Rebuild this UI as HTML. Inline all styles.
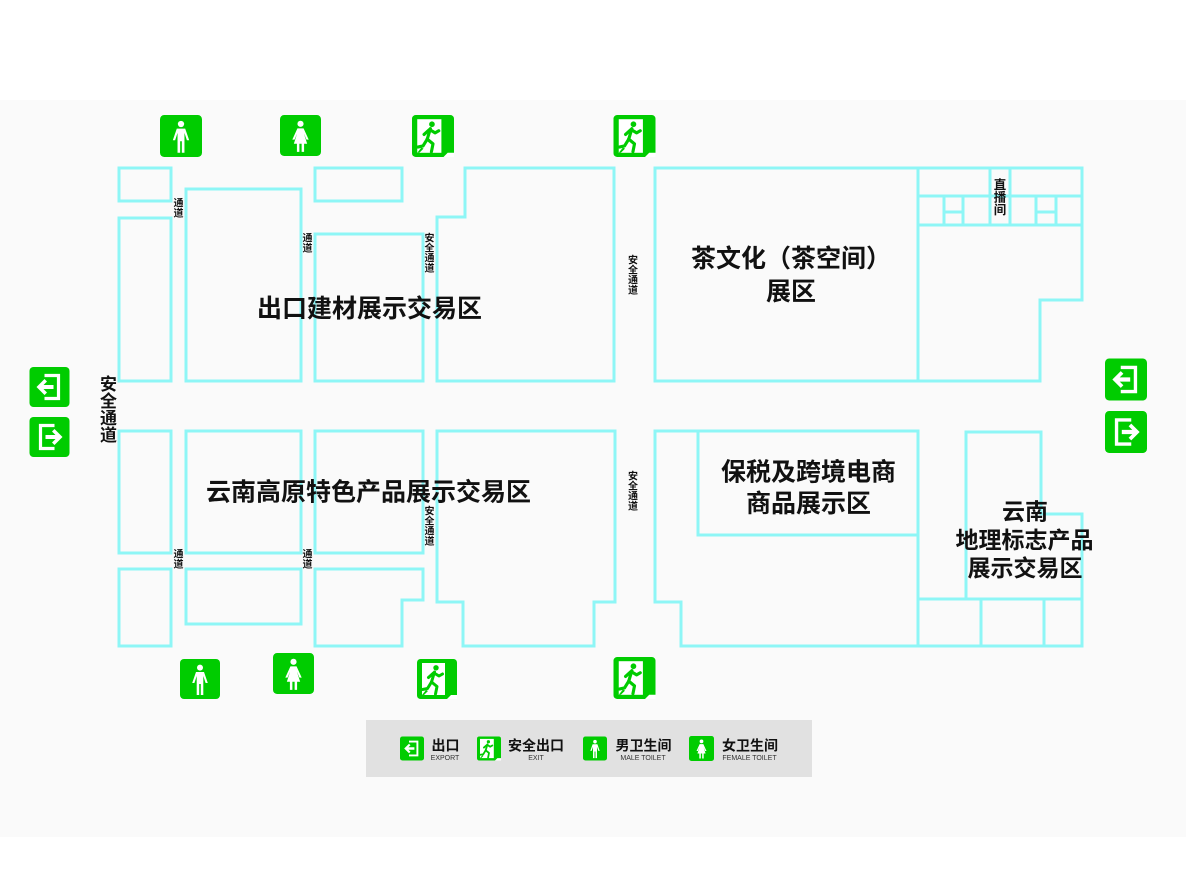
<!DOCTYPE html>
<html><head><meta charset="utf-8">
<style>
html,body{margin:0;padding:0;background:#fff;}
body{width:1186px;height:877px;overflow:hidden;position:relative;}
svg{position:absolute;left:0;top:0;}
.t{font-family:"Liberation Sans","Noto Sans CJK SC",sans-serif;font-weight:700;fill:#111;text-anchor:middle;dominant-baseline:central;}
.s{font-family:"Liberation Sans",sans-serif;font-size:7px;fill:#333;text-anchor:middle;}
</style></head>
<body>
<svg width="1186" height="877" viewBox="0 0 1186 877" xmlns="http://www.w3.org/2000/svg">
<defs>
<symbol id="male" viewBox="0 0 40 40">
<rect width="40" height="40" rx="4" fill="#00cc00"/>
<circle cx="20" cy="8.6" r="3" fill="#fff"/>
<path d="M16 13h8l3.8 11h-2.2l-2.3-7v19h-2.5v-11h-1.6v11h-2.5v-19l-2.3 7h-2.2z" fill="#fff"/>
</symbol>
<symbol id="female" viewBox="0 0 40 40">
<rect width="40" height="40" rx="4" fill="#00cc00"/>
<circle cx="20" cy="8.6" r="3" fill="#fff"/>
<path d="M17 13h6l5 11h-2.2l-2.5-6 3.2 10h-3v8h-2.4v-8h-2.2v8h-2.4v-8h-3l3.2-10-2.5 6h-2.2z" fill="#fff"/>
</symbol>
<symbol id="exit" viewBox="0 0 40 40">
<rect width="40" height="40" rx="3.5" fill="#00cc00"/>
<rect x="5" y="4" width="23" height="32" fill="#fff"/>
<path d="M30 40 L34 36 L40 36 L40 40z" fill="#fff"/>
<circle cx="19" cy="8.8" r="2.7" fill="#00cc00"/>
<g stroke="#00cc00" stroke-width="3" fill="none" stroke-linecap="round" stroke-linejoin="round">
<path d="M17.5 13 L14.5 23"/>
<path d="M17 14 L22 17 L25.5 15"/>
<path d="M16.5 14 L11.5 18.5"/>
<path d="M14.5 23 L20 27.5 L18.5 35"/>
<path d="M14.5 23 L10.5 29.5 L5.5 30.5"/>
</g>
<path d="M5 36 L9 31 L11 32 L7 36z" fill="#00cc00"/>
</symbol>
<symbol id="exL" viewBox="0 0 40 40">
<rect width="40" height="40" rx="4" fill="#00cc00"/>
<path d="M15 8.5h14v23h-14" stroke="#fff" stroke-width="3.2" fill="none"/>
<path d="M7 20 L15 12 L17.5 14.5 L14 18 L24 18 L24 22 L14 22 L17.5 25.5 L15 28z" fill="#fff"/>
</symbol>
<symbol id="exR" viewBox="0 0 40 40">
<rect width="40" height="40" rx="4" fill="#00cc00"/>
<path d="M25 8.5h-14v23h14" stroke="#fff" stroke-width="3.2" fill="none"/>
<path d="M33 20 L25 12 L22.5 14.5 L26 18 L16 18 L16 22 L26 22 L22.5 25.5 L25 28z" fill="#fff"/>
</symbol>
</defs>

<!-- background band -->
<rect x="0" y="100" width="1186" height="737" fill="#fafafa"/>

<!-- rooms -->
<g fill="none" stroke="#8ef6f6" stroke-width="3" stroke-linejoin="miter">
<rect x="119" y="168" width="52" height="33"/>
<rect x="119" y="218" width="52" height="163"/>
<rect x="186" y="189" width="115" height="192"/>
<rect x="315" y="168" width="87" height="33"/>
<rect x="315" y="234" width="108" height="147"/>
<polygon points="465,168 614,168 614,381 437,381 437,217 465,217"/>
<rect x="655" y="168" width="263" height="213"/>
<polygon points="918,168 1082,168 1082,300 1040,300 1040,381 918,381"/>
<line x1="918" y1="196" x2="1082" y2="196"/>
<line x1="918" y1="225" x2="1082" y2="225"/>
<line x1="990" y1="168" x2="990" y2="225"/>
<line x1="1010" y1="168" x2="1010" y2="225"/>
<line x1="944" y1="196" x2="944" y2="225"/>
<line x1="963" y1="196" x2="963" y2="225"/>
<line x1="944" y1="212" x2="963" y2="212"/>
<line x1="1036" y1="196" x2="1036" y2="225"/>
<line x1="1056" y1="196" x2="1056" y2="225"/>
<line x1="1036" y1="212" x2="1056" y2="212"/>

<rect x="119" y="431" width="52" height="122"/>
<rect x="186" y="431" width="115" height="122"/>
<rect x="315" y="431" width="108" height="122"/>
<rect x="119" y="569" width="52" height="77"/>
<rect x="186" y="569" width="115" height="55"/>
<polygon points="315,569 423,569 423,600 402,600 402,646 315,646"/>
<polygon points="437,431 615,431 615,602 594,602 594,646 463,646 463,602 437,602"/>
<polyline points="918,431 655,431 655,602 681,602 681,646 1082,646 1082,514 1041,514 1041,432 966,432 966,599"/>
<rect x="698" y="431" width="220" height="104"/>
<line x1="918" y1="431" x2="918" y2="646"/>
<line x1="918" y1="599" x2="1082" y2="599"/>
<line x1="981" y1="599" x2="981" y2="646"/>
<line x1="1044" y1="599" x2="1044" y2="646"/>
</g>

<!-- icons top -->
<use href="#male" x="160" y="115" width="42" height="42"/>
<use href="#female" x="280" y="115" width="41" height="41"/>
<use href="#exit" x="412" y="115" width="42" height="42"/>
<use href="#exit" x="612" y="115" width="45" height="42" preserveAspectRatio="none"/>
<!-- icons bottom -->
<use href="#male" x="180" y="659" width="40" height="40"/>
<use href="#female" x="273" y="653" width="41" height="41"/>
<use href="#exit" x="417" y="659" width="40" height="40"/>
<use href="#exit" x="612" y="657" width="45" height="42" preserveAspectRatio="none"/>
<!-- side icons -->
<use href="#exL" x="29" y="367" width="41" height="40" preserveAspectRatio="none"/>
<use href="#exR" x="29" y="417" width="41" height="40" preserveAspectRatio="none"/>
<use href="#exL" x="1105" y="358" width="42" height="43" preserveAspectRatio="none"/>
<use href="#exR" x="1105" y="411" width="42" height="42" preserveAspectRatio="none"/>

<!-- small vertical labels -->
<g class="t" style="font-size:10px">
<text x="178.5" y="204">通</text><text x="178.5" y="214">道</text>
<text x="307.5" y="239">通</text><text x="307.5" y="249">道</text>
<text x="429.5" y="239">安</text><text x="429.5" y="249">全</text><text x="429.5" y="259">通</text><text x="429.5" y="269">道</text>
<text x="633" y="261">安</text><text x="633" y="271">全</text><text x="633" y="281">通</text><text x="633" y="291">道</text>
<text x="178.5" y="555">通</text><text x="178.5" y="565">道</text>
<text x="307.5" y="555">通</text><text x="307.5" y="565">道</text>
<text x="429.5" y="512">安</text><text x="429.5" y="522">全</text><text x="429.5" y="532">通</text><text x="429.5" y="542">道</text>
<text x="633" y="477">安</text><text x="633" y="487">全</text><text x="633" y="497">通</text><text x="633" y="507">道</text>
</g>
<g class="t" style="font-size:12.5px">
<text x="1000" y="185">直</text><text x="1000" y="197.5">播</text><text x="1000" y="210">间</text>
</g>
<g class="t" style="font-size:17px">
<text x="108.5" y="384.5">安</text><text x="108.5" y="401.5">全</text><text x="108.5" y="418.5">通</text><text x="108.5" y="435.5">道</text>
</g>

<!-- main labels -->
<g class="t" style="font-size:25px">
<text x="369.5" y="309">出口建材展示交易区</text>
<text x="368.5" y="492.5">云南高原特色产品展示交易区</text>
<text x="791" y="259">茶文化（茶空间）</text>
<text x="791" y="292">展区</text>
<text x="808.5" y="472.5">保税及跨境电商</text>
<text x="808.5" y="504">商品展示区</text>
</g>
<g class="t" style="font-size:23px">
<text x="1025" y="511.5">云南</text>
<text x="1024.5" y="540">地理标志产品</text>
<text x="1025" y="568">展示交易区</text>
</g>

<!-- legend -->
<rect x="366" y="720" width="446" height="57" fill="#e1e1e1"/>
<use href="#exL" x="400" y="736" width="24" height="25" preserveAspectRatio="none"/>
<use href="#exit" x="477" y="736" width="24" height="25" preserveAspectRatio="none"/>
<use href="#male" x="583" y="736" width="24" height="25" preserveAspectRatio="none"/>
<use href="#female" x="689" y="736" width="25" height="25" preserveAspectRatio="none"/>
<g class="t" style="font-size:14px">
<text x="445.5" y="745.5">出口</text>
<text x="536" y="745.5">安全出口</text>
<text x="643.5" y="745.5">男卫生间</text>
<text x="750" y="745.5">女卫生间</text>
</g>
<text class="s" x="445" y="760">EXPORT</text>
<text class="s" x="536" y="760">EXIT</text>
<text class="s" x="643" y="760">MALE TOILET</text>
<text class="s" x="749.5" y="760">FEMALE TOILET</text>
</svg>
</body></html>
